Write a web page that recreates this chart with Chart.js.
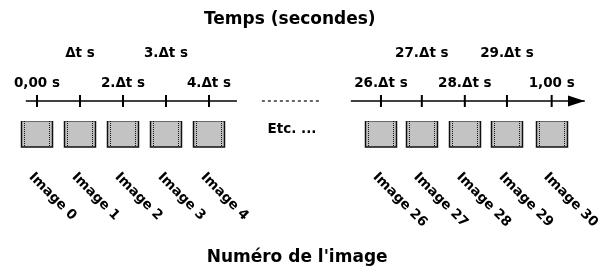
<!DOCTYPE html>
<html lang="fr">
<head>
<meta charset="UTF-8">
<title>Temps / numéro de l'image</title>
<script src="https://cdn.jsdelivr.net/npm/chart.js"></script>
<style>
  html, body { margin: 0; background: #fff; }
  #wrap { width: 608px; height: 267px; }
</style>
</head>
<body>
<div id="wrap"><canvas id="frames"></canvas></div>
<script>
// frames drawn in the diagram, and their place on the (broken) time axis, in frame slots
const frameNumbers = [0, 1, 2, 3, 4, 26, 27, 28, 29, 30];
const frameSlots   = [0, 1, 2, 3, 4, 8, 8.95, 9.95, 10.93, 11.97];
const tickLabels   = ['0,00 s', 'Δt s', '2.Δt s', '3.Δt s', '4.Δt s', '26.Δt s', '27.Δt s', '28.Δt s', '29.Δt s', '1,00 s'];
const tickRaised   = [false, true, false, true, false, false, true, false, true, false];
const axisLeft  = [-0.26, 4.65];   // first piece of the time axis
const axisRight = [7.3, 12.74];    // second piece, ends with the arrow
const gapDots   = [5.23, 6.56];    // dotted gap between the two

// vertical layout (y scale runs top -> bottom)
const ROW = { title: 20, high: 53, low: 83, axis: 101, boxTop: 121, boxBottom: 147,
              etc: 129, label: 175, bottom: 258 };
const FONT = '"DejaVu Sans", sans-serif';

const diagram = {
  id: 'diagram',
  afterDatasetsDraw(chart) {
    const { ctx, scales: { x, y } } = chart;
    ctx.save();
    ctx.fillStyle = '#000';

    // arrow head at the end of the axis
    const tip = x.getPixelForValue(axisRight[1]);
    const base = x.getPixelForValue(12.35);
    const ya = y.getPixelForValue(ROW.axis);
    ctx.beginPath();
    ctx.moveTo(tip, ya);
    ctx.lineTo(base, ya - 5.5);
    ctx.lineTo(base, ya + 5.5);
    ctx.closePath();
    ctx.fill();

    // frame boxes
    const top = y.getPixelForValue(ROW.boxTop);
    const bot = y.getPixelForValue(ROW.boxBottom);
    frameSlots.forEach(s => {
      const l = Math.round(x.getPixelForValue(s - 0.36)) + 0.5;
      const r = Math.round(x.getPixelForValue(s + 0.36)) + 0.5;
      ctx.fillStyle = '#c3c3c3';
      ctx.fillRect(l, top, r - l, bot - top);
      ctx.strokeStyle = '#111';
      ctx.lineWidth = 1.5;
      ctx.setLineDash([]);
      ctx.beginPath();
      ctx.moveTo(l, top); ctx.lineTo(l, bot); ctx.lineTo(r, bot); ctx.lineTo(r, top);
      ctx.stroke();
      ctx.lineWidth = 1;
      ctx.setLineDash([1, 1]);
      ctx.beginPath();
      ctx.moveTo(l, top + 0.5); ctx.lineTo(r, top + 0.5);
      ctx.moveTo(l + 3, top); ctx.lineTo(l + 3, bot);
      ctx.moveTo(r - 3, top); ctx.lineTo(r - 3, bot);
      ctx.stroke();
    });
    ctx.setLineDash([]);

    // tick labels, alternating rows
    ctx.fillStyle = '#000';
    ctx.font = 'bold 13.5px ' + FONT;
    ctx.textAlign = 'center';
    ctx.textBaseline = 'middle';
    tickLabels.forEach((t, i) => {
      ctx.fillText(t, x.getPixelForValue(frameSlots[i]), y.getPixelForValue(tickRaised[i] ? ROW.high : ROW.low));
    });
    ctx.fillText('Etc. ...', x.getPixelForValue(5.93), y.getPixelForValue(ROW.etc));

    // frame names, turned 45 degrees
    ctx.textAlign = 'left';
    frameNumbers.forEach((n, i) => {
      ctx.save();
      ctx.translate(x.getPixelForValue(frameSlots[i] - 0.14), y.getPixelForValue(ROW.label));
      ctx.rotate(Math.PI / 4);
      ctx.fillText('Image ' + n, 0, 0);
      ctx.restore();
    });

    // titles
    ctx.textAlign = 'center';
    ctx.font = 'bold 17px ' + FONT;
    ctx.fillText('Temps (secondes)', x.getPixelForValue(5.88), y.getPixelForValue(ROW.title));
    ctx.fillText("Numéro de l'image", x.getPixelForValue(6.05), y.getPixelForValue(ROW.bottom));
    ctx.restore();
  }
};

const seg = (a, b) => [{ x: a, y: ROW.axis }, { x: b, y: ROW.axis }];

new Chart(document.getElementById('frames'), {
  type: 'scatter',
  data: {
    datasets: [
      { data: seg(axisLeft[0], axisLeft[1]), showLine: true, pointRadius: 0, borderColor: '#000', borderWidth: 1.5 },
      { data: seg(axisRight[0], axisRight[1]), showLine: true, pointRadius: 0, borderColor: '#000', borderWidth: 1.5 },
      { data: seg(gapDots[0], gapDots[1]), showLine: true, pointRadius: 0, borderColor: '#000', borderWidth: 1.2, borderDash: [3, 3] },
      {
        data: frameSlots.map(s => ({ x: s, y: ROW.axis })),
        pointStyle: 'line', rotation: 90, pointRadius: 6,
        borderColor: '#000', borderWidth: 2, showLine: false
      }
    ]
  },
  options: {
    responsive: true,
    maintainAspectRatio: false,
    animation: false,
    events: [],
    layout: { padding: 0, autoPadding: false },
    plugins: { legend: { display: false }, tooltip: { enabled: false } },
    scales: {
      x: { type: 'linear', display: false, min: -0.86, max: 13.28 },
      y: { type: 'linear', display: false, min: 0, max: 267, reverse: true }
    }
  },
  plugins: [diagram]
});
</script>
</body>
</html>
